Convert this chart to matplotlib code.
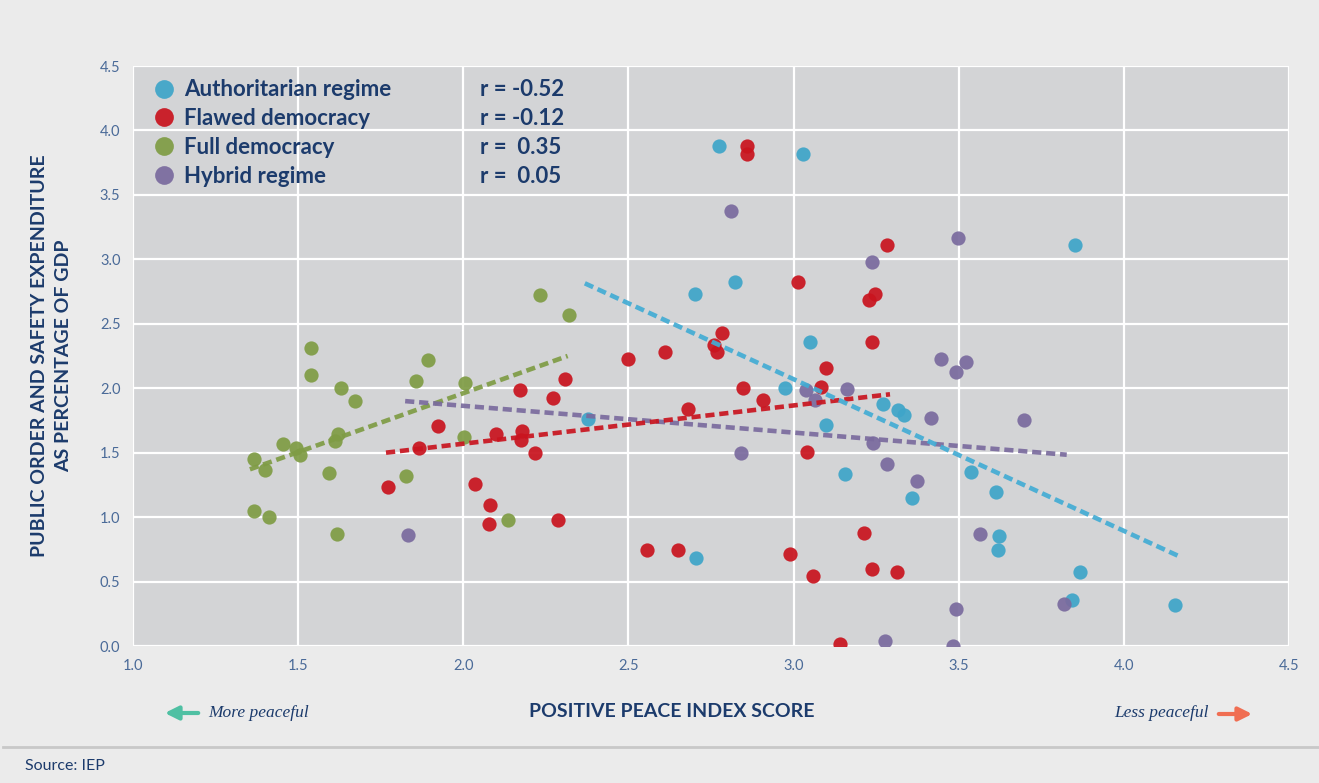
import numpy as np
from matplotlib import pyplot as plt
from matplotlib.lines import Line2D

# values
blue_x = [2.773, 3.029, 2.823, 2.701, 3.050, 2.973, 3.271, 3.315, 3.334, 3.098, 3.157,
          3.360, 3.537, 3.613, 3.622, 3.618, 3.867, 3.842, 4.154, 2.704, 2.378, 3.852]
blue_y = [3.877, 3.820, 2.824, 2.731, 2.358, 2.004, 1.877, 1.831, 1.790, 1.717, 1.337,
          1.148, 1.353, 1.195, 0.851, 0.742, 0.574, 0.359, 0.320, 0.680, 1.763, 3.111]

red_x = [2.859, 2.859, 3.283, 3.013, 3.246, 3.228, 3.237, 2.783, 2.759, 2.768, 2.611,
         2.499, 2.308, 3.098, 2.847, 3.083, 2.907, 2.680, 2.172, 2.272, 1.923, 2.099,
         2.178, 2.175, 1.866, 2.217, 3.041, 1.772, 2.035, 2.081, 2.078, 2.287, 2.556,
         2.650, 3.213, 2.989, 3.059, 3.237, 3.313, 3.140]
red_y = [3.879, 3.817, 3.111, 2.824, 2.731, 2.684, 2.358, 2.428, 2.335, 2.281, 2.281,
         2.227, 2.071, 2.157, 2.002, 2.009, 1.908, 1.839, 1.986, 1.924, 1.707, 1.645,
         1.668, 1.598, 1.536, 1.497, 1.505, 1.234, 1.257, 1.094, 0.946, 0.977, 0.745,
         0.745, 0.877, 0.714, 0.543, 0.597, 0.574, 0.016]

green_x = [2.232, 2.321, 1.538, 1.540, 1.629, 1.671, 1.893, 1.857, 2.006, 1.621, 1.613,
           1.453, 1.493, 1.506, 1.366, 1.401, 2.003, 1.593, 1.828, 1.366, 1.413, 2.134,
           1.619]
green_y = [2.720, 2.566, 2.314, 2.100, 2.004, 1.900, 2.221, 2.053, 2.040, 1.647, 1.588,
           1.565, 1.533, 1.482, 1.448, 1.363, 1.618, 1.345, 1.321, 1.050, 1.003, 0.975,
           0.866]

purple_x = [2.810, 3.237, 3.498, 3.446, 3.522, 3.492, 3.038, 3.162, 3.065, 3.416, 3.698,
            2.841, 3.240, 3.283, 3.374, 3.565, 3.819, 3.492, 3.277, 3.483, 1.833]
purple_y = [3.375, 2.979, 3.165, 2.227, 2.203, 2.126, 1.986, 1.994, 1.908, 1.769, 1.753,
            1.497, 1.575, 1.412, 1.280, 0.869, 0.326, 0.287, 0.039, 0.000, 0.861]

# trend line ends (x from, x to) and (y from, y to)
blue_trend_x, blue_trend_y = [2.368, 4.164], [2.814, 0.700]
red_trend_x, red_trend_y = [1.766, 3.292], [1.500, 1.953]
green_trend_x, green_trend_y = [1.354, 2.316], [1.371, 2.250]
purple_trend_x, purple_trend_y = [1.824, 3.827], [1.900, 1.484]

labels = ['Authoritarian regime', 'Flawed democracy', 'Full democracy', 'Hybrid regime']
r_labels = ['r = -0.52', 'r = -0.12', 'r =  0.35', 'r =  0.05']
ticks = [0.0, 0.5, 1.0, 1.5, 2.0, 2.5, 3.0, 3.5, 4.0, 4.5]

c_blue = '#3fa5c9'
c_red = '#c9141f'
c_green = '#7f9c45'
c_purple = '#7a6b9e'
navy = '#1c3b6c'
tick_col = '#4a6a98'

plt.rcParams['font.family'] = ['Lato', 'DejaVu Sans']

fig = plt.figure(figsize=(13.19, 7.83), dpi=100, facecolor='#ebebeb')
ax = fig.add_axes([133/1319, 1-646/783, 1156/1319, 580/783])
ax.set_facecolor('#d3d4d6')

groups = [(blue_x, blue_y, c_blue), (red_x, red_y, c_red),
          (green_x, green_y, c_green), (purple_x, purple_y, c_purple)]
for gx, gy, col in groups:
    ax.scatter(gx, gy, s=105, color=col, alpha=0.93, linewidths=0, zorder=3)

trends = [(green_trend_x, green_trend_y, c_green), (purple_trend_x, purple_trend_y, c_purple),
          (red_trend_x, red_trend_y, c_red), (blue_trend_x, blue_trend_y, '#43acd4')]
for tx, ty, col in trends:
    ax.plot(tx, ty, color=col, lw=3.3, dashes=(2.0, 1.05), alpha=0.92, zorder=4,
            solid_capstyle='butt', dash_capstyle='butt')

ax.set_xlim(1.0, 4.5)
ax.set_ylim(0.0, 4.5)
ax.set_xticks([1.0, 1.5, 2.0, 2.5, 3.0, 3.5, 4.0, 4.5])
ax.set_yticks(ticks)
ax.grid(True, color='white', lw=1.6, zorder=1)
ax.set_axisbelow(True)
for s in ax.spines.values():
    s.set_visible(False)
ax.tick_params(length=0, colors=tick_col, labelsize=10.5, pad=9)

ax.set_xlabel('POSITIVE PEACE INDEX SCORE', fontsize=14, fontweight='bold',
              color=navy, labelpad=22)
ax.xaxis.label.set_x(0.466)
ax.set_ylabel('PUBLIC ORDER AND SAFETY EXPENDITURE\nAS PERCENTAGE OF GDP', fontsize=14,
              fontweight='bold', color=navy, labelpad=20, linespacing=1.5)

handles = [Line2D([], [], ls='none', marker='o', ms=13.5, color=c, alpha=0.93, mew=0)
           for c in [c_blue, c_red, c_green, c_purple]]
leg_kw = dict(loc='upper left', frameon=False, labelcolor=navy, borderaxespad=0,
              labelspacing=0.35, borderpad=0.3, prop={'size': 16, 'weight': 'bold'})
leg1 = ax.legend(handles, labels, bbox_to_anchor=(0.0115, 0.9883),
                 handlelength=1.0, handletextpad=0.40, **leg_kw)
ax.add_artist(leg1)
blank = [Line2D([], [], ls='none') for _ in r_labels]
ax.legend(blank, r_labels, bbox_to_anchor=(0.2944, 0.9883),
          handlelength=0, handletextpad=0, **leg_kw)

# direction hints under the x axis
ax.annotate('', xy=(162/1319, 1-713/783), xytext=(201/1319, 1-713/783),
            xycoords='figure fraction', textcoords='figure fraction',
            arrowprops=dict(arrowstyle='-|>,head_length=0.8,head_width=0.4',
                            color='#4fc0a3', lw=3))
fig.text(208/1319, 1-713/783, 'More peaceful', family='Liberation Serif', style='italic',
         fontsize=12.5, color=navy, va='center', ha='left')
ax.annotate('', xy=(1255/1319, 1-714/783), xytext=(1216/1319, 1-714/783),
            xycoords='figure fraction', textcoords='figure fraction',
            arrowprops=dict(arrowstyle='-|>,head_length=0.8,head_width=0.4',
                            color='#f06e52', lw=3))
fig.text(1209/1319, 1-713/783, 'Less peaceful', family='Liberation Serif', style='italic',
         fontsize=12.5, color=navy, va='center', ha='right')

fig.add_artist(Line2D([0.002, 1.0], [1-747/783, 1-747/783], color='#c8c8c8', lw=2))
fig.text(25/1319, 1-766/783, 'Source: IEP', fontsize=11.5, color=navy, va='center', ha='left')

fig.savefig('out.png', dpi=100, facecolor=fig.get_facecolor())
